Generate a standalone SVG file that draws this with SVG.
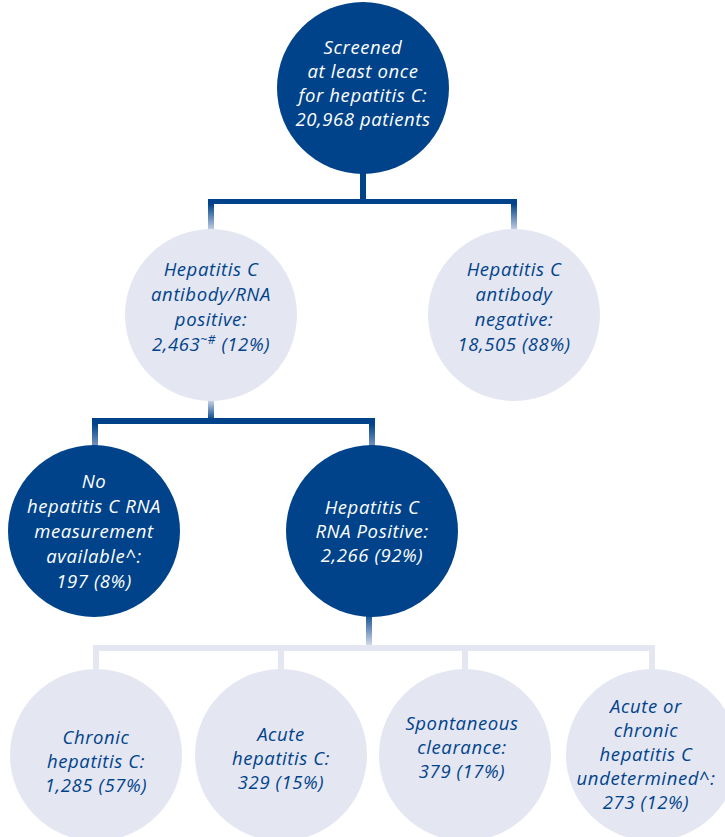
<svg xmlns="http://www.w3.org/2000/svg" width="725" height="837" viewBox="0 0 725 837">
<style>
.dk{fill:#00438A}
.lt{fill:#E4E6F2}
text{font-family:"Open Sans",Lato,"Noto Sans",sans-serif;font-style:italic;font-size:18.5px;letter-spacing:0.6px;text-anchor:middle}
.tw{fill:#FFFFFF}
.tb{fill:#00438A}
</style>
<defs>
<linearGradient id="dl" x1="0" y1="0" x2="0" y2="1"><stop offset="0" stop-color="#00438A"/><stop offset="1" stop-color="#E4E6F2"/></linearGradient>
<linearGradient id="ld" x1="0" y1="0" x2="0" y2="1"><stop offset="0" stop-color="#E4E6F2"/><stop offset="1" stop-color="#00438A"/></linearGradient>
<linearGradient id="dm" x1="0" y1="0" x2="0" y2="1"><stop offset="0" stop-color="#00438A"/><stop offset="1" stop-color="#8FA3CC"/></linearGradient>
</defs>
<g id="connectors">
<rect x="360" y="168" width="6" height="36" class="dk"/>
<rect x="208" y="199" width="309" height="5" class="dk"/>
<rect x="208" y="204" width="6" height="30" fill="url(#dl)"/>
<rect x="511" y="204" width="6" height="30" fill="url(#dl)"/>
<rect x="208" y="398" width="6" height="22" fill="url(#ld)"/>
<rect x="92" y="418" width="283" height="6" class="dk"/>
<rect x="92" y="424" width="6" height="26" fill="url(#dm)"/>
<rect x="369" y="424" width="6" height="26" fill="url(#dm)"/>
<rect x="366" y="612" width="6" height="36" fill="url(#dl)"/>
<rect x="93" y="645" width="562" height="6" class="lt"/>
<rect x="93" y="651" width="6" height="26" class="lt"/>
<rect x="278" y="651" width="6" height="26" class="lt"/>
<rect x="462" y="651" width="6" height="26" class="lt"/>
<rect x="649" y="651" width="6" height="26" class="lt"/>
</g>
<g id="screened">
<circle cx="363" cy="88" r="86" class="dk"/>
<text class="tw" x="363" y="54">Screened</text>
<text class="tw" x="363" y="78">at least once</text>
<text class="tw" x="363" y="102">for hepatitis C:</text>
<text class="tw" x="363" y="126">20,968 patients</text>
</g>
<g id="antibody-positive">
<circle cx="211" cy="315" r="86" class="lt"/>
<text class="tb" x="211" y="276">Hepatitis C</text>
<text class="tb" x="211" y="301">antibody/RNA</text>
<text class="tb" x="211" y="326">positive:</text>
<text class="tb" x="211" y="351">2,463<tspan font-size="12" dy="-7">~#</tspan><tspan dy="7"> (12%)</tspan></text>
</g>
<g id="antibody-negative">
<circle cx="514" cy="315" r="86" class="lt"/>
<text class="tb" x="514" y="276">Hepatitis C</text>
<text class="tb" x="514" y="301">antibody</text>
<text class="tb" x="514" y="326">negative:</text>
<text class="tb" x="514" y="351">18,505 (88%)</text>
</g>
<g id="no-rna">
<circle cx="94" cy="531" r="86" class="dk"/>
<text class="tw" x="94" y="488">No</text>
<text class="tw" x="94" y="513">hepatitis C RNA</text>
<text class="tw" x="94" y="538">measurement</text>
<text class="tw" x="94" y="563">available^:</text>
<text class="tw" x="94" y="588">197 (8%)</text>
</g>
<g id="rna-positive">
<circle cx="372" cy="531" r="86" class="dk"/>
<text class="tw" x="372" y="514">Hepatitis C</text>
<text class="tw" x="372" y="538">RNA Positive:</text>
<text class="tw" x="372" y="562">2,266 (92%)</text>
</g>
<g id="chronic">
<circle cx="96" cy="755" r="86" class="lt"/>
<text class="tb" x="96" y="744">Chronic</text>
<text class="tb" x="96" y="768">hepatitis C:</text>
<text class="tb" x="96" y="792">1,285 (57%)</text>
</g>
<g id="acute">
<circle cx="281" cy="755" r="86" class="lt"/>
<text class="tb" x="281" y="741">Acute</text>
<text class="tb" x="281" y="765">hepatitis C:</text>
<text class="tb" x="281" y="789">329 (15%)</text>
</g>
<g id="clearance">
<circle cx="465" cy="755" r="86" class="lt"/>
<text class="tb" x="462" y="730">Spontaneous</text>
<text class="tb" x="462" y="754">clearance:</text>
<text class="tb" x="462" y="778">379 (17%)</text>
</g>
<g id="undetermined">
<circle cx="652" cy="755" r="86" class="lt"/>
<text class="tb" x="646" y="713">Acute or</text>
<text class="tb" x="646" y="737">chronic</text>
<text class="tb" x="646" y="761">hepatitis C</text>
<text class="tb" x="646" y="785">undetermined^:</text>
<text class="tb" x="646" y="809">273 (12%)</text>
</g>
</svg>
